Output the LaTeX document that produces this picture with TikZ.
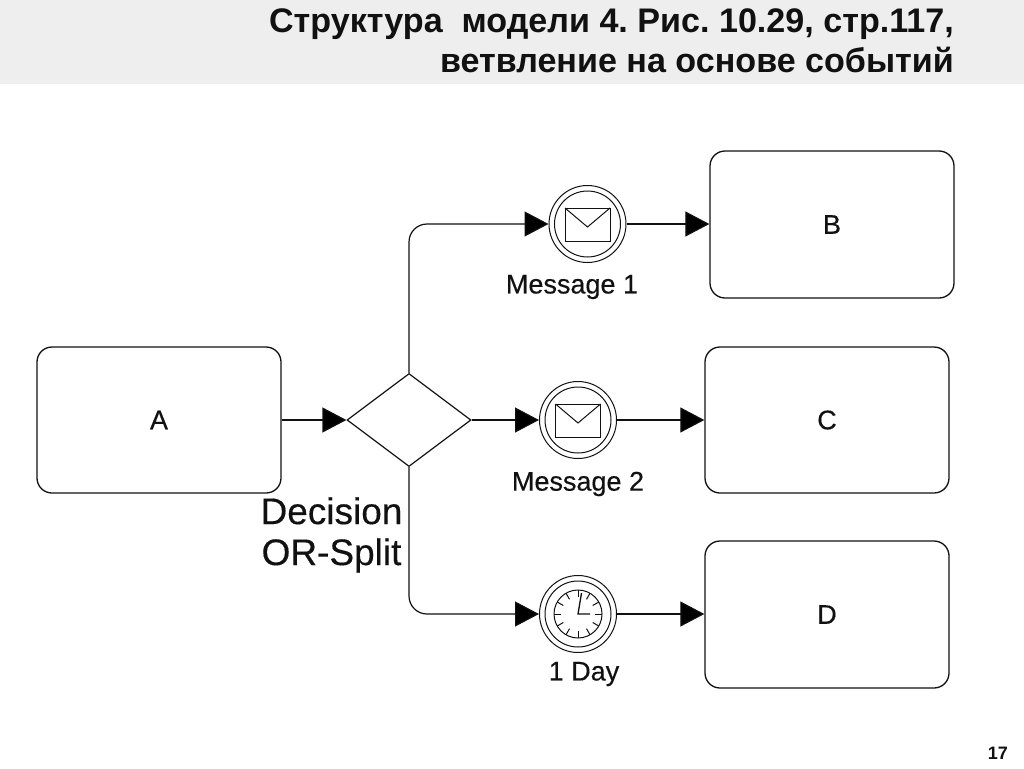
\documentclass[tikz,border=0pt]{standalone}
\usepackage{fontspec}
\setmainfont{Liberation Sans}
\newfontfamily\semifont[FakeBold=0.35]{Liberation Sans}
\usetikzlibrary{arrows.meta,shapes.geometric}
\definecolor{band}{HTML}{EEEEEE}
\definecolor{ink}{HTML}{111111}
\tikzset{
  x=1pt,y=-1pt,
  activity/.style={draw=ink,line width=1.3pt,rounded corners=15pt,minimum width=244pt,minimum height=146pt,inner sep=0pt,font=\semifont\fontsize{27}{30}\selectfont,text=ink},
  gateway/.style={draw=ink,line width=1.2pt,shape=diamond,aspect=1.333,minimum width=124pt,minimum height=93pt,inner sep=0pt},
  evt/.style={draw=ink,line width=1pt,circle,minimum size=77pt,inner sep=0pt},
  evtin/.style={draw=ink,line width=1pt,circle,minimum size=66pt,inner sep=0pt},
  flow/.style={draw=ink,line width=1.2pt,-{Triangle[length=24pt,width=25pt,fill=black]}},
  evlabel/.style={font=\semifont\fontsize{27}{30}\selectfont,text=ink,inner sep=0pt},
  detail/.style={draw=ink,line width=1pt},
  hand/.style={draw=ink,line width=1.3pt},
}
\newcommand{\envelope}[2]{%
  \draw[detail] (#1-22.5,#2-16) rectangle (#1+22.5,#2+17);
  \draw[detail] (#1-22.5,#2-16) -- (#1,#2+3) -- (#1+22.5,#2-16);
}
\begin{document}
\begin{tikzpicture}
\useasboundingbox (0,0) rectangle (1024,768);
\fill[band] (0,0) rectangle (1024,84);
\node[anchor=north east,align=right,inner sep=0pt,font=\frenchspacing\fontsize{34.1}{40}\selectfont\bfseries,text=ink] (title) at (954,8.500) {Структура\ \ модели 4. Рис. 10.29, стр.117,\\ветвление на основе событий};
\node[anchor=base east,inner sep=0pt,font=\fontsize{18}{20}\selectfont\bfseries,text=ink] (page) at (1008,759) {17};

\node[activity] (A) at (159,420) {A};
\node[activity,minimum height=147pt] (B) at (832,224.500) {B};
\node[activity] (C) at (827,420) {C};
\node[activity,minimum height=147pt] (D) at (827,614.500) {D};
\node[gateway] (G) at (409,420) {};

\node[evt] (E1) at (587.500,224) {};
\node[evtin] (E1i) at (587.500,224) {};
\node[evt] (E2) at (578,420) {};
\node[evtin] (E2i) at (578,420) {};
\node[evt] (E3) at (578,614) {};
\node[evtin] (E3i) at (578,614) {};

\envelope{587.5}{224}
\envelope{578}{420}

\draw[detail] (578,614) circle (24);
\foreach \a in {0,30,...,330}{
  \draw[detail] (578,614)++(\a:24) -- ++(\a+180:7);
}
\draw[hand] (590,614) -- (578,614) -- (581.5,593);

\node[evlabel] (L1) at (572,287) {Message 1};
\node[evlabel] (L2) at (578,484) {Message 2};
\node[evlabel] (L3) at (584,674) {1 Day};
\node[align=center,inner sep=0pt,font=\semifont\fontsize{37}{41}\selectfont,text=ink] (L4) at (331.500,535) {Decision\\OR-Split};

\draw[flow] (A.east) -- (G.west);
\draw[flow,rounded corners=18pt] (G.north) |- (E1.west);
\draw[flow] (G.east) -- (E2.west);
\draw[flow,rounded corners=18pt] (G.south) |- (E3.west);
\draw[flow] (E1.east) -- (E1.east -| B.west);
\draw[flow] (E2.east) -- (C.west);
\draw[flow] (E3.east) -- (E3.east -| D.west);
\end{tikzpicture}
\end{document}
